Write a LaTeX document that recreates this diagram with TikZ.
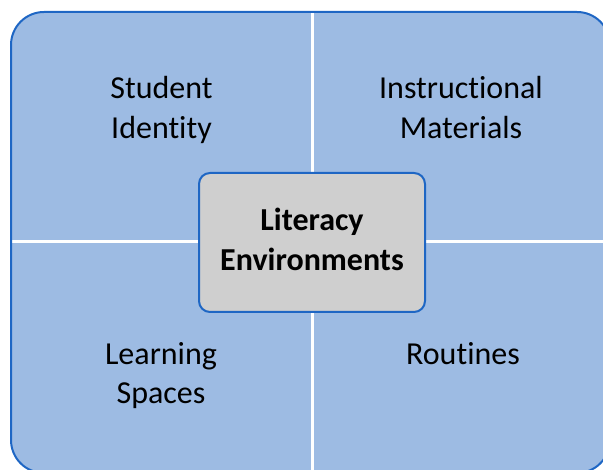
\documentclass[tikz,border=0pt]{standalone}
\usepackage{fontspec}
\setmainfont[Ligatures=NoCommon]{Carlito}
\definecolor{quadfill}{RGB}{157,187,227}
\definecolor{edgeblue}{RGB}{30,102,196}
\definecolor{boxgray}{RGB}{207,207,207}
\tikzset{
  lbl/.style={anchor=base, font=\fontsize{32}{40}\selectfont, text=black, inner sep=0pt},
  centerlbl/.style={lbl, font=\fontsize{32}{40}\selectfont\bfseries},
  divider/.style={draw=white, line width=3pt},
  outerbox/.style={draw=edgeblue, line width=2pt, rounded corners=33pt},
  centerbox/.style={draw=edgeblue, fill=boxgray, line width=2pt, rounded corners=11pt}
}
\begin{document}
\begin{tikzpicture}[x=1pt,y=1pt]
\useasboundingbox (0,0) rectangle (603,470);
\clip (0,0) rectangle (603,470);
% outer panel
\fill[quadfill, rounded corners=33pt] (11,458) rectangle (610,-3);
\coordinate (vt) at (312,458);
\coordinate (vb) at (312,-3);
\coordinate (hl) at (11,228);
\coordinate (hr) at (610,228);
\draw[divider] (vt) -- (vb);
\draw[divider] (hl) -- (hr);
\draw[outerbox] (11,458) rectangle (610,-3);
% center box
\node[centerbox, minimum width=226pt, minimum height=139pt, inner sep=0pt] (center) at (312,227.5) {};
\node[centerlbl] (lit1) at (312,239) {Literacy};
\node[centerlbl] (lit2) at (312,199) {Environments};
% quadrant labels
\node[lbl] (si1) at (161.5,371) {Student};
\node[lbl] (si2) at (161.5,331) {Identity};
\node[lbl] (im1) at (461,371) {Instructional};
\node[lbl] (im2) at (461,331) {Materials};
\node[lbl] (ls1) at (161,105) {Learning};
\node[lbl] (ls2) at (161,66) {Spaces};
\node[lbl] (ro) at (463,105) {Routines};
\end{tikzpicture}
\end{document}
